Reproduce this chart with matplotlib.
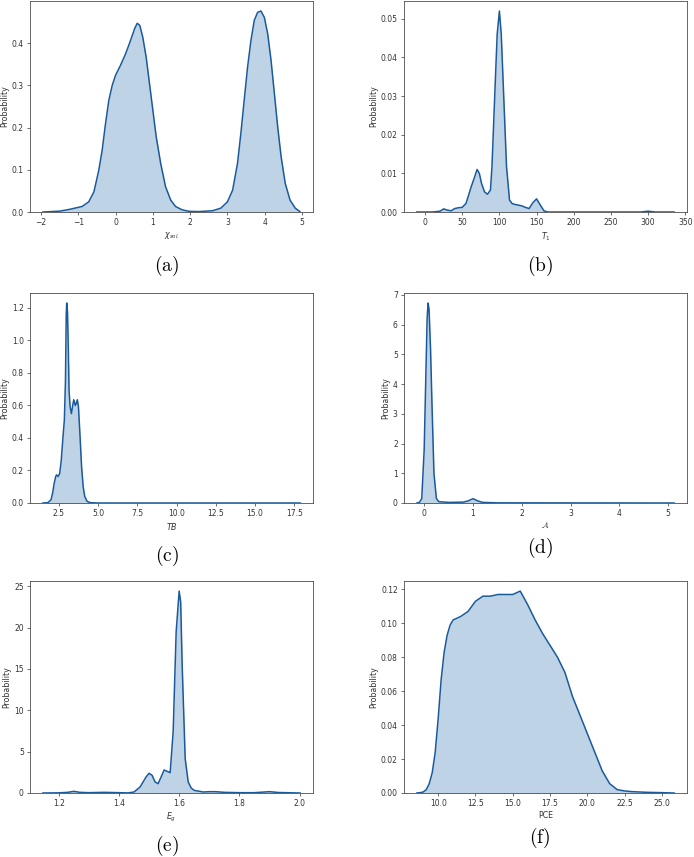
import matplotlib
matplotlib.use('Agg')
import matplotlib.pyplot as plt

plt.rcParams['mathtext.fontset'] = 'dejavusans'

# (a) chi_sol
a_x = [-1.95, -1.5, -1.25, -0.9, -0.72, -0.58, -0.45, -0.36, -0.27, -0.18, -0.09, 0.0, 0.13, 0.27,
       0.40, 0.51, 0.58, 0.65, 0.73, 0.82, 0.91, 1.0, 1.09, 1.21, 1.34, 1.48, 1.61, 1.79, 1.97, 2.24,
       2.60, 2.82, 3.0, 3.14, 3.27, 3.36, 3.45, 3.54, 3.63, 3.72, 3.81, 3.90, 3.99, 4.08, 4.17, 4.26,
       4.35, 4.44, 4.55, 4.68, 4.82, 4.93, 4.95]
a_y = [0.0, 0.002, 0.006, 0.013, 0.024, 0.048, 0.099, 0.146, 0.209, 0.265, 0.300, 0.324, 0.347, 0.375,
       0.406, 0.434, 0.447, 0.442, 0.414, 0.367, 0.304, 0.241, 0.178, 0.115, 0.060, 0.028, 0.013, 0.005,
       0.0016, 0.001, 0.003, 0.009, 0.024, 0.052, 0.115, 0.186, 0.265, 0.343, 0.406, 0.454, 0.473, 0.476,
       0.461, 0.422, 0.359, 0.280, 0.200, 0.131, 0.068, 0.028, 0.009, 0.002, 0.0]

# (b) T1
b_x = [-11, 10, 20, 25, 30, 35, 40, 45, 50, 55, 58, 62, 66, 70, 73, 76, 80, 84, 88, 90, 93.5, 97, 100,
       102.5, 106, 109.6, 113.6, 117, 120, 125, 130, 135, 140, 145, 150, 155, 160, 165, 200, 250, 290,
       300, 310, 335]
b_y = [0, 0, 0.0002, 0.0008, 0.0005, 0.0003, 0.0009, 0.0011, 0.0012, 0.0022, 0.004, 0.0065, 0.0087,
       0.011, 0.010, 0.0074, 0.0052, 0.0046, 0.0057, 0.0117, 0.029, 0.046, 0.052, 0.046, 0.029, 0.0117,
       0.0031, 0.0022, 0.002, 0.0018, 0.0016, 0.0012, 0.0009, 0.0024, 0.0034, 0.0018, 0.0003, 0, 0, 0, 0,
       0.0002, 0, 0]

# (c) TB
c_x = [1.48, 1.8, 2.0, 2.1, 2.2, 2.3, 2.35, 2.45, 2.55, 2.65, 2.75, 2.85, 2.92, 2.97, 3.0, 3.05, 3.1,
       3.15, 3.22, 3.3, 3.4, 3.45, 3.55, 3.6, 3.68, 3.75, 3.85, 3.95, 4.05, 4.15, 4.3, 4.5, 5.0, 10.0, 17.88]
c_y = [0, 0.002, 0.02, 0.06, 0.12, 0.163, 0.173, 0.163, 0.18, 0.26, 0.39, 0.51, 0.75, 1.16, 1.23, 1.18,
       0.96, 0.69, 0.59, 0.55, 0.61, 0.635, 0.60, 0.61, 0.635, 0.59, 0.41, 0.22, 0.10, 0.04, 0.01, 0.002,
       0, 0, 0]

# (d) A
d_x = [-0.15, -0.1, -0.05, 0.0, 0.03, 0.06, 0.08, 0.1, 0.13, 0.16, 0.2, 0.25, 0.3, 0.5, 0.8, 0.9, 1.0,
       1.1, 1.2, 1.5, 5.12]
d_y = [0, 0.02, 0.15, 1.8, 4.0, 6.2, 6.73, 6.5, 5.2, 3.3, 1.0, 0.15, 0.045, 0.02, 0.03, 0.07, 0.145,
       0.07, 0.02, 0.005, 0]

# (e) Eg
e_x = [1.147, 1.2, 1.23, 1.25, 1.27, 1.3, 1.35, 1.4, 1.43, 1.45, 1.47, 1.48, 1.49, 1.5, 1.51, 1.52, 1.53,
       1.54, 1.55, 1.56, 1.57, 1.58, 1.59, 1.6, 1.605, 1.61, 1.62, 1.63, 1.64, 1.65, 1.68, 1.7, 1.72, 1.75,
       1.8, 1.85, 1.9, 1.93, 2.002]
e_y = [0, 0.02, 0.08, 0.2, 0.08, 0.04, 0.08, 0.04, 0.01, 0.12, 0.73, 1.33, 1.94, 2.38, 2.14, 1.33, 1.13,
       1.94, 2.78, 2.62, 2.46, 7.4, 19.5, 24.4, 23.1, 15.4, 4.15, 1.33, 0.6, 0.32, 0.12, 0.16, 0.16, 0.08,
       0.04, 0.04, 0.16, 0.06, 0]

# (f) PCE
f_x = [8.57, 8.8, 9.0, 9.2, 9.4, 9.6, 9.8, 10.0, 10.2, 10.4, 10.6, 10.8, 11.0, 11.5, 12.0, 12.5, 13.0,
       13.5, 14.0, 14.5, 15.0, 15.5, 16.0, 16.5, 17.0, 17.5, 18.0, 18.5, 19.0, 19.5, 20.0, 20.5, 21.0,
       21.5, 22.0, 22.5, 23.0, 24.0, 25.0, 25.82]
f_y = [0, 0.0002, 0.0006, 0.002, 0.0055, 0.012, 0.024, 0.044, 0.067, 0.083, 0.093, 0.099, 0.102, 0.104,
       0.107, 0.113, 0.116, 0.116, 0.117, 0.117, 0.117, 0.119, 0.111, 0.102, 0.094, 0.087, 0.080, 0.071,
       0.057, 0.046, 0.035, 0.024, 0.013, 0.0055, 0.002, 0.0012, 0.0008, 0.0004, 0.0002, 0]

panels = [
    (a_x, a_y, r'$\chi_{sol.}$', '(a)', [-2, -1, 0, 1, 2, 3, 4, 5], [0, 0.1, 0.2, 0.3, 0.4]),
    (b_x, b_y, r'$T_1$', '(b)', [0, 50, 100, 150, 200, 250, 300, 350], [0, 0.01, 0.02, 0.03, 0.04, 0.05]),
    (c_x, c_y, r'$TB$', '(c)', [2.5, 5, 7.5, 10, 12.5, 15, 17.5], [0, 0.2, 0.4, 0.6, 0.8, 1.0, 1.2]),
    (d_x, d_y, r'$\mathcal{A}$', '(d)', [0, 1, 2, 3, 4, 5], [0, 1, 2, 3, 4, 5, 6, 7]),
    (e_x, e_y, r'$E_g$', '(e)', [1.2, 1.4, 1.6, 1.8, 2.0], [0, 5, 10, 15, 20, 25]),
    (f_x, f_y, 'PCE', '(f)', [10, 12.5, 15, 17.5, 20, 22.5, 25], [0, 0.02, 0.04, 0.06, 0.08, 0.10, 0.12]),
]

W, H = 694, 857
fig = plt.figure(figsize=(W / 100, H / 100), dpi=100)

# axes boxes in pixels: left, top, width, height
boxes = [(30, 1, 283, 211), (404, 1, 283, 211),
         (30, 293, 283, 210), (404, 293, 283, 210),
         (30, 581, 283, 212), (404, 581, 283, 212)]
caption_pos = [(167, 266), (540, 266), (167, 556), (540, 548), (167, 846), (540, 838)]

line_color = '#1a5a9a'
fill_color = '#bfd3e6'

for (x, y, xlab, cap, xt, yt), (l, t, w, h), (cx, cy) in zip(panels, boxes, caption_pos):
    ax = fig.add_axes([l / W, (H - t - h) / H, w / W, h / H])
    ax.fill_between(x, y, 0, color=fill_color, linewidth=0)
    ax.plot(x, y, color=line_color, linewidth=1.1)
    r = max(x) - min(x)
    ax.set_xlim(min(x) - 0.05 * r, max(x) + 0.05 * r)
    ax.set_ylim(0, max(y) * 1.05)
    ax.set_xticks(xt)
    ax.set_yticks(yt)
    ax.tick_params(labelsize=5.5, length=2.5, width=0.5, pad=2, colors='0.2')
    for s in ax.spines.values():
        s.set_linewidth(0.6)
        s.set_color('0.3')
    ax.set_xlabel(xlab, fontsize=5.7, labelpad=2, color='0.2')
    ax.set_ylabel('Probability', fontsize=5.7, labelpad=2, color='0.2')
    fig.text(cx / W, 1 - cy / H, r'$\mathrm{' + cap + '}$', fontsize=14, ha='center', va='center',
             math_fontfamily='cm')

fig.savefig('out.png', dpi=100)
